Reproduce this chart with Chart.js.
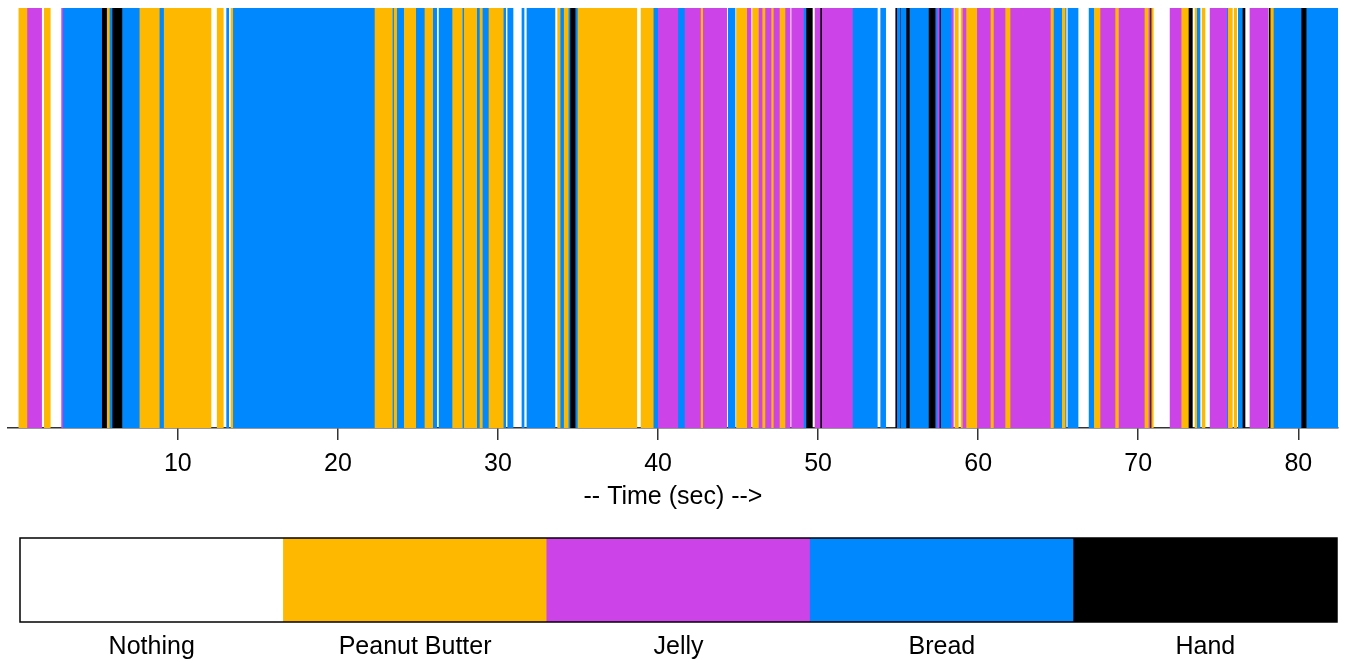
<!DOCTYPE html>
<html>
<head>
<meta charset="utf-8">
<script src="https://cdn.jsdelivr.net/npm/chart.js@4.4.1/dist/chart.umd.min.js"></script>
<style>
  html, body { margin: 0; padding: 0; background: #fff; }
  #wrap { position: relative; width: 1345px; height: 663px; }
  #timeline-box { position: absolute; left: 0; top: 0; width: 1345px; height: 520px; }
  #legend-box { position: absolute; left: 0; top: 520px; width: 1345px; height: 143px; }
</style>
</head>
<body>
<div id="wrap">
  <div id="timeline-box"><canvas id="timeline"></canvas></div>
  <div id="legend-box"><canvas id="legend"></canvas></div>
</div>
<script>
const stateNames = ["Nothing", "Peanut Butter", "Jelly", "Bread", "Hand"];
const stateCodes = ["N", "P", "J", "B", "H"];
const stateColors = ["#ffffff", "#ffb800", "#cc44e8", "#0088ff", "#000000"];

// time (sec) at which each new state begins
const changeTimes = [
  0.07, 0.57, 1.49, 1.66, 2.03, 2.74, 2.81, 5.24, 5.59, 5.72, 5.89, 6.55, 7.63, 8.84, 9.15,
  12.07, 12.46, 12.84, 13.05, 13.18, 13.32, 13.43, 22.32, 23.40, 23.52, 23.67, 24.15, 24.86,
  25.44, 25.92, 26.17, 26.32, 27.17, 27.77, 27.90, 28.67, 28.88, 29.02, 29.44, 30.33, 30.48,
  30.61, 30.94, 31.50, 31.63, 31.81, 33.56, 33.73, 33.88, 34.14, 34.39, 34.50, 34.86, 35.00,
  38.67, 38.94, 39.70, 40.02, 41.23, 41.69, 42.69, 42.79, 44.29, 44.39, 44.81, 44.90, 45.54,
  45.81, 45.91, 46.27, 46.54, 46.68, 47.10, 47.20, 47.62, 47.93, 48.25, 48.35, 49.08, 49.24,
  49.64, 49.81, 50.12, 50.26, 52.14, 53.70, 53.91, 54.22, 54.85, 54.95, 55.12, 55.18, 55.49,
  55.74, 56.89, 57.35, 57.47, 57.57, 57.68, 58.35, 58.45, 58.55, 58.76, 58.93, 59.01, 59.28,
  59.91, 60.80, 60.95, 61.72, 61.99, 64.55, 64.70, 65.26, 65.43, 65.49, 65.61, 66.24, 66.93,
  67.26, 67.61, 68.59, 68.76, 70.42, 70.63, 70.74, 70.84, 70.94, 71.99, 72.72, 73.13, 73.38,
  73.55, 73.65, 73.86, 73.99, 74.17, 74.49, 75.53, 75.63, 75.88, 76.00, 76.15, 76.25, 76.50,
  76.67, 76.98, 78.09, 78.17, 78.28, 78.44, 80.17, 80.53
];
const changeStates = [
  "P", "J", "N", "P", "N", "J", "B", "H", "P", "B", "H", "B", "P", "B", "P",
  "N", "P", "N", "B", "N", "P", "B", "P", "B", "P", "B", "P", "B",
  "P", "B", "N", "B", "P", "B", "P", "B", "P", "B", "P", "B", "N",
  "B", "N", "B", "N", "B", "N", "P", "B", "P", "B", "H", "B", "P",
  "N", "P", "B", "J", "B", "J", "P", "J", "N", "B", "N", "P", "J",
  "N", "P", "J", "P", "J", "P", "J", "P", "J", "N", "J", "B", "H",
  "N", "J", "H", "J", "B", "N", "B", "N", "H", "B", "H", "B", "H",
  "B", "H", "B", "J", "H", "B", "J", "N", "P", "N", "P", "J", "P",
  "J", "P", "J", "P", "J", "P", "B", "P", "B", "N", "B", "N", "B",
  "P", "J", "P", "J", "P", "J", "H", "P", "N", "J", "P", "H", "N",
  "P", "B", "N", "P", "N", "J", "B", "P", "N", "P", "N", "B", "H",
  "N", "J", "N", "H", "P", "B", "H", "B"
];
const endTime = 82.46;
const tickValues = [10, 20, 30, 40, 50, 60, 70, 80];

const textFont = { family: "'Liberation Sans', Arial, sans-serif", size: 25 };

const datasets = stateCodes.map((code, i) => ({
  label: stateNames[i],
  data: [],
  backgroundColor: code === "N" ? "rgba(255,255,255,0)" : stateColors[i],
  borderWidth: 0,
  grouped: false,
  barPercentage: 1,
  categoryPercentage: 1
}));
changeTimes.forEach((t, k) => {
  const end = k + 1 < changeTimes.length ? changeTimes[k + 1] : endTime;
  datasets[stateCodes.indexOf(changeStates[k])].data.push({ x: [t, end], y: "run" });
});

new Chart(document.getElementById("timeline"), {
  type: "bar",
  data: { labels: ["run"], datasets: datasets },
  options: {
    indexAxis: "y",
    responsive: true,
    maintainAspectRatio: false,
    animation: false,
    layout: { padding: { top: 8, left: 8, right: 7 } },
    plugins: { legend: { display: false }, tooltip: { enabled: false } },
    scales: {
      y: { display: false },
      x: {
        type: "linear",
        min: -0.61,
        max: 82.48,
        afterBuildTicks: (scale) => { scale.ticks = tickValues.map(v => ({ value: v })); },
        afterFit: (scale) => { scale.height = 92; },
        grid: { drawOnChartArea: false, tickLength: 12, color: "#333", lineWidth: 1.5 },
        border: { color: "#333", width: 1.5 },
        ticks: { color: "#000", font: textFont, padding: 9, maxRotation: 0 },
        title: {
          display: true,
          text: "-- Time (sec) -->",
          color: "#000",
          font: textFont,
          padding: { top: 0, bottom: 8 }
        }
      }
    }
  }
});

new Chart(document.getElementById("legend"), {
  type: "bar",
  data: {
    labels: stateNames,
    datasets: [{
      data: stateNames.map(() => 1),
      backgroundColor: stateColors,
      borderWidth: 0,
      barPercentage: 1,
      categoryPercentage: 1
    }]
  },
  options: {
    responsive: true,
    maintainAspectRatio: false,
    animation: false,
    layout: { padding: { top: 18, left: 20, right: 8 } },
    plugins: { legend: { display: false }, tooltip: { enabled: false } },
    scales: {
      y: { display: false, min: 0, max: 1 },
      x: {
        grid: { display: false, drawTicks: false },
        border: { display: false },
        ticks: { color: "#000", font: textFont, padding: 10 },
        afterFit: (scale) => { scale.height = 41; }
      }
    }
  },
  plugins: [{
    id: "frame",
    afterDatasetsDraw(chart) {
      const { ctx, chartArea: a } = chart;
      ctx.save();
      ctx.strokeStyle = "#000";
      ctx.lineWidth = 1.5;
      ctx.strokeRect(a.left, a.top, a.right - a.left, a.bottom - a.top);
      ctx.restore();
    }
  }]
});
</script>
</body>
</html>
